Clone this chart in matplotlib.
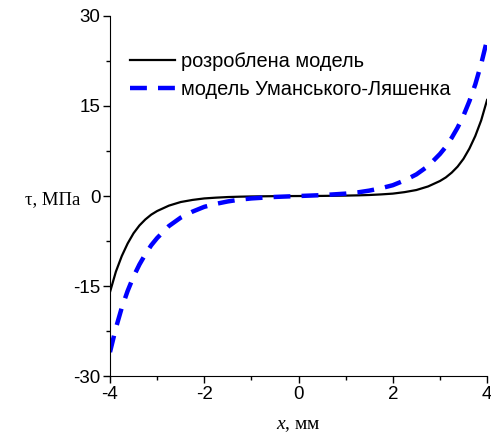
import numpy as np
import matplotlib
matplotlib.use('Agg')
import matplotlib.pyplot as plt
from matplotlib.ticker import MultipleLocator

# Shear stress along the joint, MPa (both curves are odd in x, so only x >= 0 is listed)
x_half = [0.0, 0.5, 1.0, 1.25, 1.5, 1.75, 2.0, 2.25, 2.5, 2.75, 3.0, 3.125, 3.25,
          3.375, 3.5, 3.625, 3.75, 3.875, 4.0]
tau_new_half = [0.0, 0.02, 0.07, 0.11, 0.17, 0.27, 0.4, 0.65, 1.0, 1.6, 2.5, 3.1, 3.9,
                4.9, 6.2, 7.9, 10.0, 12.6, 16.0]
tau_um_half = [0.0, 0.15, 0.4, 0.6, 0.9, 1.3, 1.8, 2.6, 3.6, 5.0, 7.0, 8.2, 9.7,
               11.4, 13.4, 15.8, 18.6, 22.0, 26.0]

x = [-v for v in x_half[::-1]] + x_half[1:]
tau_new = [-v for v in tau_new_half[::-1]] + tau_new_half[1:]
tau_um = [-v for v in tau_um_half[::-1]] + tau_um_half[1:]

plt.rcParams['font.family'] = 'Liberation Sans'
plt.rcParams['axes.unicode_minus'] = False
plt.rcParams['mathtext.fontset'] = 'custom'
plt.rcParams['mathtext.it'] = 'Liberation Serif:italic'
plt.rcParams['mathtext.rm'] = 'Liberation Serif'

fig = plt.figure(figsize=(4.91, 4.42), dpi=100)
ax = fig.add_axes([0.224, 0.149, 0.768, 0.815])

ax.plot(x, tau_new, color='black', lw=1.6, label='розроблена модель')
ax.plot(x, tau_um, color='blue', lw=3.2, ls=(0, (3.8, 2.5)),
        label='модель Уманського-Ляшенка')

ax.set_xlim(-4, 4)
ax.set_ylim(-30, 30)
ax.xaxis.set_major_locator(MultipleLocator(2))
ax.xaxis.set_minor_locator(MultipleLocator(1))
ax.yaxis.set_major_locator(MultipleLocator(15))
ax.yaxis.set_minor_locator(MultipleLocator(7.5))
ax.tick_params(which='major', length=5, width=1, labelsize=13.5, pad=2)
ax.tick_params(which='minor', length=3, width=1)
ax.spines['top'].set_visible(False)
ax.spines['right'].set_visible(False)

ax.set_ylabel('τ, МПа', family='Liberation Serif', fontsize=13.5, rotation=0,
              va='center')
ax.yaxis.set_label_coords(-0.152, 0.49)
ax.set_xlabel('$x$, мм', family='Liberation Serif', fontsize=14, labelpad=10)

ax.legend(loc='upper left', bbox_to_anchor=(0.0, 0.955), frameon=False, fontsize=14.4,
          handlelength=2.25, handletextpad=0.3, labelspacing=0.45, borderaxespad=0.6)

fig.savefig('out.png', dpi=100)
